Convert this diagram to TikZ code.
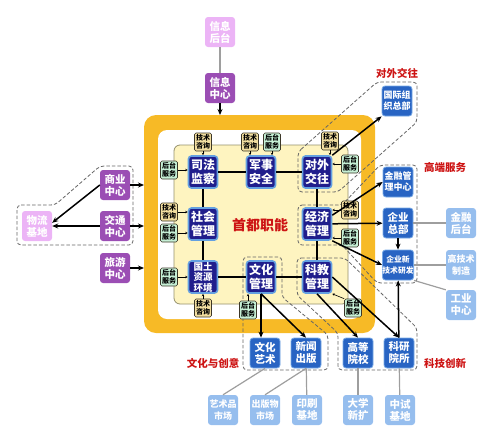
\documentclass[tikz,border=0pt]{standalone}
\usepackage{fontspec}
\setmainfont{Noto Sans CJK SC}
\usetikzlibrary{arrows.meta}
\definecolor{frameorange}{RGB}{247,186,38}
\definecolor{areayellow}{RGB}{254,244,192}
\definecolor{areaedge}{RGB}{150,145,110}
\definecolor{mainblue}{RGB}{32,30,140}
\definecolor{mainedge}{RGB}{100,160,225}
\definecolor{groupblue}{RGB}{40,100,195}
\definecolor{groupedge}{RGB}{120,170,230}
\definecolor{lightblue}{RGB}{150,190,238}
\definecolor{purplec}{RGB}{155,78,180}
\definecolor{pinkc}{RGB}{236,180,246}
\definecolor{tagtan}{RGB}{242,222,160}
\definecolor{taggreen}{RGB}{198,240,214}
\definecolor{tagedge}{RGB}{60,55,40}
\definecolor{redc}{RGB}{205,20,20}

\begin{document}
\begin{tikzpicture}[x=1pt,y=-1pt,
    every node/.style={align=center,inner sep=0pt},
    mainbox/.style={draw=mainedge,line width=1.6pt,fill=mainblue,text=white,rounded corners=3pt,
        minimum width=29pt,minimum height=32pt,font=\bfseries\fontsize{12}{14}\selectfont},
    outbox/.style={rounded corners=3pt,text=white,minimum width=30pt,minimum height=30pt,
        font=\bfseries\fontsize{10.5}{12}\selectfont},
    purplebox/.style={outbox,fill=purplec},
    pinkbox/.style={outbox,fill=pinkc},
    bluebox/.style={outbox,fill=groupblue,draw=groupedge,line width=0.8pt},
    lightbox/.style={outbox,fill=lightblue},
    tagbox/.style={draw=tagedge,line width=0.6pt,rounded corners=1.5pt,minimum width=17pt,
        minimum height=18pt,text=black,font=\bfseries\fontsize{7}{8}\selectfont},
    techtag/.style={tagbox,fill=tagtan},
    backtag/.style={tagbox,fill=taggreen},
    redtext/.style={text=redc,font=\bfseries\fontsize{10.5}{12}\selectfont},
    link/.style={line width=2pt},
    arr/.style={line width=1.5pt,-{Stealth[length=6pt,width=5pt]}},
    tagarr/.style={line width=0.6pt,-{Stealth[length=2.5pt,width=2.5pt]}},
    greyline/.style={draw=black!38,line width=1.2pt},
    grp/.style={draw=black!60,line width=0.8pt,dash pattern=on 3.5pt off 2pt,rounded corners=4pt}]
    \useasboundingbox (0,0) rectangle (500,445);
    \fill[frameorange,rounded corners=12pt] (144,115) rectangle (375,333);
    \fill[white,rounded corners=9pt] (158,130) rectangle (361,319);
    \filldraw[fill=areayellow,draw=areaedge,line width=0.8pt,rounded corners=6pt] (174,145) rectangle (348,304);
    \draw[grp] (17,205) -- (55,205) -- (100,166) -- (133,166) -- (133,245) -- (17,245) -- cycle;
    \draw[grp] (298,152) -- (377,82) -- (417,82) -- (417,122) -- (338,192) -- (298,192) -- cycle;
    \draw[grp] (298,205) -- (342,205) -- (380,165) -- (417,165) -- (417,283) -- (377,283) -- (342,245) -- (298,245) -- cycle;
    \draw[grp] (243,257) -- (282,257) -- (282,297) -- (328,335) -- (328,370) -- (243,370) -- cycle;
    \draw[grp] (297,258) -- (345,258) -- (417,328) -- (417,370) -- (338,370) -- (338,333) -- (297,295) -- cycle;
    \node[mainbox] (sifa) at (203,172) {司法\\监察};
    \node[mainbox] (junshi) at (261,172) {军事\\安全};
    \node[mainbox] (duiwai) at (317,172) {对外\\交往};
    \node[mainbox] (shehui) at (203,224) {社会\\管理};
    \node[mainbox] (jingji) at (317,224) {经济\\管理};
    \node[mainbox,font=\bfseries\fontsize{9.5}{10.5}\selectfont] (guotu) at (203,277) {国土\\资源\\环境};
    \node[mainbox] (wenhua) at (261,277) {文化\\管理};
    \node[mainbox] (kejiao) at (317,277) {科教\\管理};
    \node[redtext,font=\bfseries\fontsize{14}{16}\selectfont] (shoudu) at (260,225) {首都职能};
    \node[techtag] (t1) at (203,142) {技术\\咨询};
    \node[techtag] (t2) at (250,142) {技术\\咨询};
    \node[backtag] (t3) at (272,142) {后台\\服务};
    \node[techtag] (t4) at (330,141) {技术\\咨询};
    \node[backtag] (t5) at (350,164) {后台\\服务};
    \node[backtag] (t6) at (169,170) {后台\\服务};
    \node[techtag] (t7) at (169,212) {技术\\咨询};
    \node[backtag] (t8) at (169,233) {后台\\服务};
    \node[backtag] (t9) at (169,277) {后台\\服务};
    \node[techtag] (t10) at (350,210) {技术\\咨询};
    \node[backtag] (t11) at (350,238) {后台\\服务};
    \node[techtag] (t12) at (203,308) {技术\\咨询};
    \node[backtag] (t13) at (248,310) {后台\\服务};
    \node[backtag] (t14) at (353,308) {后台\\服务};
    \node[pinkbox] (xxht) at (220,32) {信息\\后台};
    \node[purplebox] (xxzx) at (220,88) {信息\\中心};
    \node[purplebox] (shangye) at (115,185) {商业\\中心};
    \node[purplebox] (jiaotong) at (115,226) {交通\\中心};
    \node[purplebox] (lvyou) at (115,268) {旅游\\中心};
    \node[pinkbox] (wuliu) at (37,226) {物流\\基地};
    \node[bluebox,font=\bfseries\fontsize{9}{11}\selectfont] (guoji) at (397,101) {国际组\\织总部};
    \node[bluebox,font=\bfseries\fontsize{9}{11}\selectfont] (jinrong) at (398,182) {金融管\\理中心};
    \node[bluebox] (qyzb) at (398,223) {企业\\总部};
    \node[bluebox,font=\bfseries\fontsize{7.8}{11}\selectfont] (qyx) at (398,265) {企业新\\技术研发};
    \node[lightbox] (jrht) at (461,223) {金融\\后台};
    \node[lightbox,font=\bfseries\fontsize{9}{12}\selectfont] (gjs) at (461,265) {高技术\\制造};
    \node[lightbox] (gyzx) at (461,305) {工业\\中心};
    \node[bluebox] (wenyi) at (265,353) {文化\\艺术};
    \node[bluebox] (xinwen) at (306,353) {新闻\\出版};
    \node[bluebox] (gaodeng) at (358,353) {高等\\院校};
    \node[bluebox] (keyan) at (399,353) {科研\\院所};
    \node[lightbox,font=\bfseries\fontsize{9}{12}\selectfont] (yishupin) at (223,410) {艺术品\\市场};
    \node[lightbox,font=\bfseries\fontsize{9}{12}\selectfont] (chuban) at (265,410) {出版物\\市场};
    \node[lightbox] (yinshua) at (307,410) {印刷\\基地};
    \node[lightbox] (daxue) at (358,410) {大学\\新扩};
    \node[lightbox] (zhongshi) at (400,410) {中试\\基地};
    \node[redtext] (lbdw) at (397,73) {对外交往};
    \node[redtext] (lbgd) at (445,167) {高端服务};
    \node[redtext] (lbwh) at (213,363) {文化与创意};
    \node[redtext] (lbkj) at (445,363) {科技创新};
    \coordinate (ftop) at (220,115);
    \coordinate (f1) at (144,185);
    \coordinate (f2) at (144,226);
    \coordinate (f3) at (144,268);
    \draw[link] (sifa) -- (junshi) -- (duiwai);
    \draw[link] (sifa) -- (shehui) -- (guotu) -- (wenhua) -- (kejiao) -- (jingji) -- (duiwai);
    \draw[tagarr] (t1) -- (sifa);
    \draw[tagarr] (t2.south) -- (t2.south |- junshi.north);
    \draw[tagarr] (t3.south) -- (t3.south |- junshi.north);
    \draw[tagarr] (t4.south) -- (t4.south |- duiwai.north);
    \draw[tagarr] (t5.west) -- (t5.west -| duiwai.east);
    \draw[tagarr] (t6.east) -- (t6.east -| sifa.west);
    \draw[tagarr] (t7.east) -- (t7.east -| shehui.west);
    \draw[tagarr] (t8.east) -- (t8.east -| shehui.west);
    \draw[tagarr] (t9.east) -- (t9.east -| guotu.west);
    \draw[tagarr] (t10.west) -- (t10.west -| jingji.east);
    \draw[tagarr] (t11.west) -- (t11.west -| jingji.east);
    \draw[tagarr] (t12) -- (guotu);
    \draw[tagarr] (t13.north) -- (t13.north |- wenhua.south);
    \draw[tagarr] (t14.north west) -- (kejiao.south east);
    \draw[greyline] (xxht) -- (xxzx);
    \draw[arr] (xxzx) -- (ftop);
    \draw[arr] (shangye) -- (f1);
    \draw[arr] (jiaotong) -- (f2);
    \draw[arr] (lvyou) -- (f3);
    \draw[arr] (shangye.west) -- (wuliu.12);
    \draw[arr] (jiaotong) -- (wuliu);
    \draw[arr] (duiwai.north east) -- (guoji.south west);
    \draw[arr] (jingji.30) -- (jinrong.west);
    \draw[arr] (jingji) -- (qyzb);
    \draw[arr] (jingji.south east) -- (qyx.west);
    \draw[arr] (qyzb) -- (qyx);
    \draw[arr] (keyan) -- (qyx);
    \draw[arr] (kejiao.east) -- (keyan.north);
    \draw[arr] (kejiao.south) -- (gaodeng.north);
    \draw[arr] (wenhua.south) -- (wenhua.south |- wenyi.north);
    \draw[arr] (wenhua.south) -- (xinwen.north);
    \draw[greyline] (qyzb) -- (jrht);
    \draw[greyline] (qyx) -- (gjs);
    \draw[greyline] (qyx.south east) -- (gyzx.north west);
    \draw[greyline] (wenyi.south) -- (yishupin.north);
    \draw[greyline] (xinwen.south) -- (chuban.north);
    \draw[greyline] (xinwen) -- (yinshua);
    \draw[greyline] (gaodeng) -- (daxue);
    \draw[greyline] (keyan) -- (zhongshi);
\end{tikzpicture}
\end{document}
